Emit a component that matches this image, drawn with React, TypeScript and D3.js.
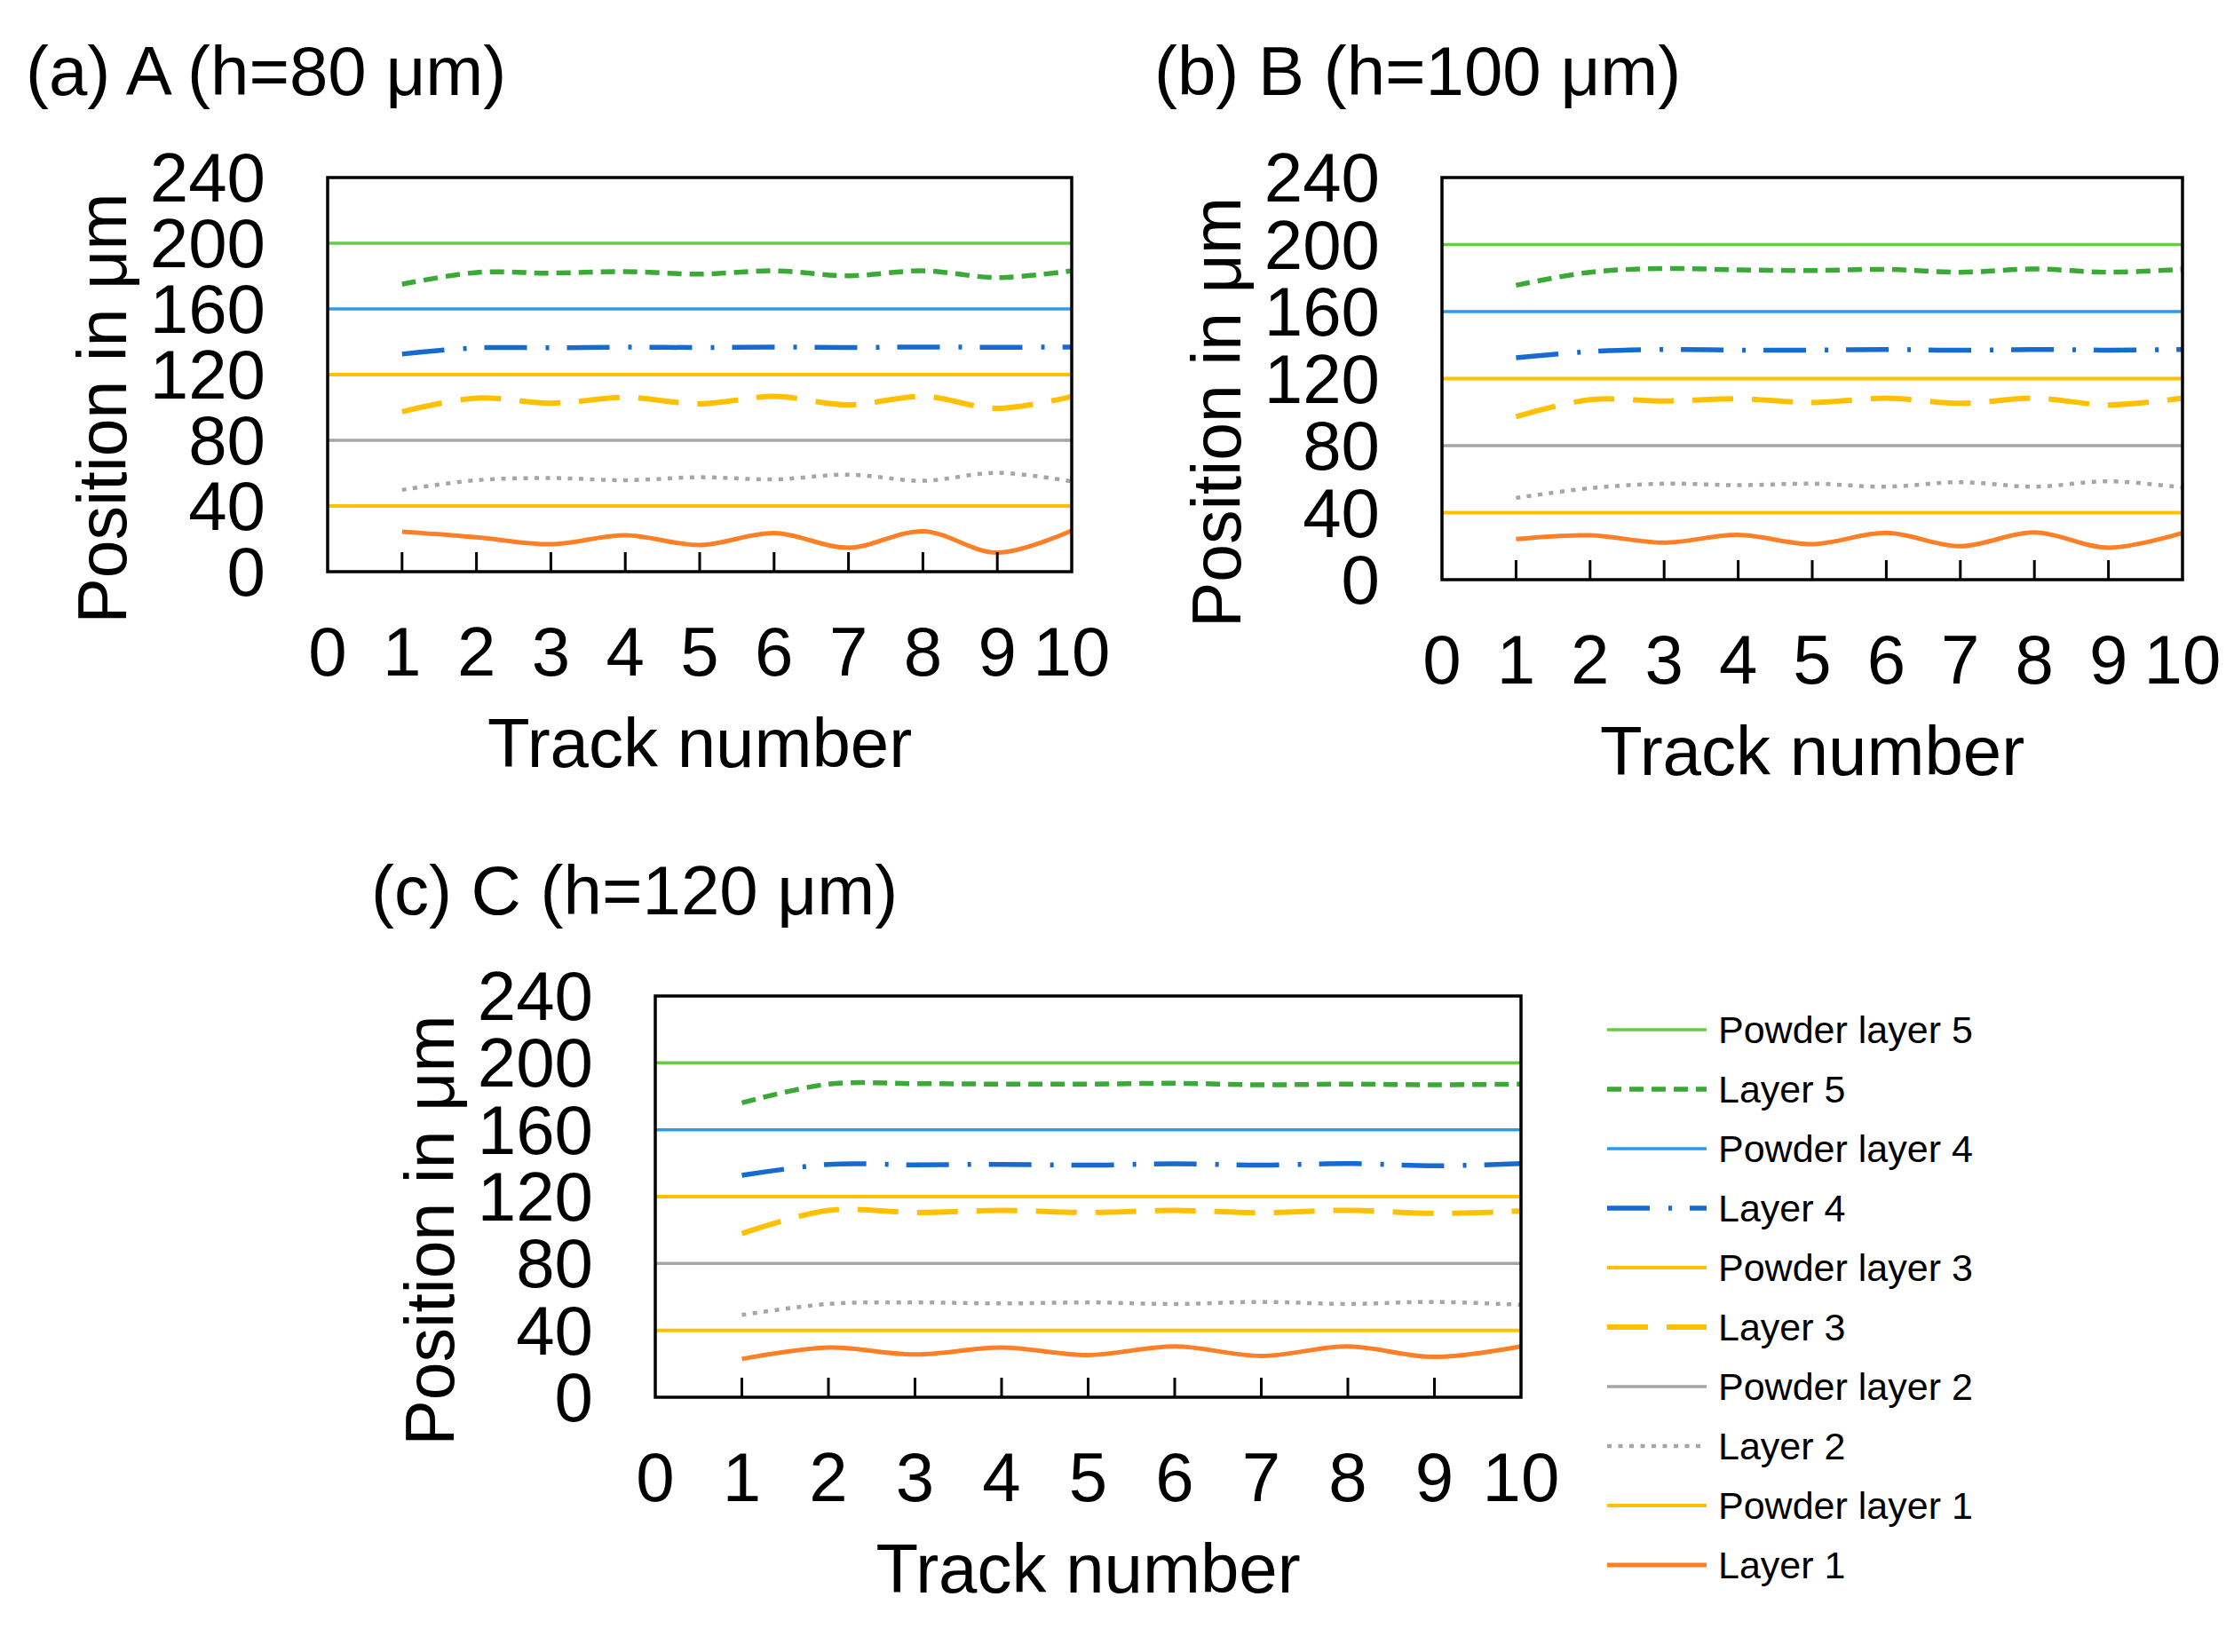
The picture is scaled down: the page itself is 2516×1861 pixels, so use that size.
import { useEffect, useRef } from "react"
import * as d3 from "d3"

const W = 2516
const H = 1861
const FONT = "'Liberation Sans', Arial, Helvetica, sans-serif"

// track numbers and axis ticks
const tracks = [1, 2, 3, 4, 5, 6, 7, 8, 9, 10]
const xTickValues = [0, 1, 2, 3, 4, 5, 6, 7, 8, 9, 10]
const innerTicks = [1, 2, 3, 4, 5, 6, 7, 8, 9]
const yTickValues = [0, 40, 80, 120, 160, 200, 240]

// nominal powder layer heights (powder layer 1..5)
const powderHeights = [40, 80, 120, 160, 200]

// (a) A, h = 80 um
const layer1A = [24.3, 21.0, 16.7, 22.2, 16.2, 23.5, 14.6, 24.6, 11.6, 25.0]
const layer2A = [49.8, 55.7, 57.0, 55.7, 57.5, 56.2, 59.1, 55.4, 60.2, 55.0]
const layer3A = [97.4, 105.7, 102.6, 106.1, 102.2, 106.7, 101.6, 106.7, 99.5, 106.7]
const layer4A = [132.5, 136.3, 136.3, 136.7, 136.5, 136.8, 136.5, 136.8, 136.6, 136.8]
const layer5A = [175.0, 182.2, 181.8, 182.7, 181.2, 183.2, 180.2, 183.2, 179.1, 183.2]

// (b) B, h = 100 um
const layer1B = [24.2, 26.5, 22.1, 26.8, 21.2, 27.9, 20.0, 28.2, 19.1, 27.9]
const layer2B = [48.8, 54.6, 57.3, 56.4, 57.3, 55.5, 58.2, 55.5, 58.7, 55.0]
const layer3B = [97.3, 107.4, 106.6, 108.0, 105.7, 108.3, 105.3, 108.3, 104.3, 108.3]
const layer4B = [132.4, 136.1, 137.4, 137.0, 137.0, 137.4, 136.9, 137.4, 137.0, 137.4]
const layer5B = [175.7, 183.5, 185.7, 184.9, 184.5, 185.2, 183.5, 185.4, 183.5, 185.2]

// (c) C, h = 120 um
const layer1C = [22.9, 29.7, 25.6, 29.7, 25.2, 30.4, 24.7, 30.4, 24.1, 30.4]
const layer2C = [49.2, 55.8, 56.7, 56.1, 56.7, 55.8, 57.0, 55.8, 57.0, 55.3]
const layer3C = [97.9, 111.8, 110.5, 111.8, 110.5, 111.8, 110.3, 111.8, 110.0, 111.4]
const layer4C = [132.7, 139.3, 139.0, 139.3, 138.8, 139.7, 138.8, 139.8, 138.4, 139.8]
const layer5C = [176.1, 187.3, 187.6, 187.3, 187.3, 187.8, 186.9, 187.3, 186.9, 187.3]

const panelTitles = ["(a) A (h=80 μm)", "(b) B (h=100 μm)", "(c) C (h=120 μm)"]
const legendLabels = [
  "Powder layer 5",
  "Layer 5",
  "Powder layer 4",
  "Layer 4",
  "Powder layer 3",
  "Layer 3",
  "Powder layer 2",
  "Layer 2",
  "Powder layer 1",
  "Layer 1",
]

// styles: index 0 = layer 1 ... index 4 = layer 5
const layerStyles = [
  { color: "#FF7F27", width: 5, dash: "" },
  { color: "#A6A6A6", width: 4.5, dash: "5,7.5" },
  { color: "#FFC000", width: 6, dash: "46,21" },
  { color: "#176BD0", width: 5.5, dash: "48,21,4,20" },
  { color: "#3AA935", width: 5.5, dash: "16,9" },
]
const powderStyles = [
  { color: "#FFC000", width: 4 },
  { color: "#A6A6A6", width: 3.5 },
  { color: "#FFC000", width: 4 },
  { color: "#2E9BE8", width: 3.5 },
  { color: "#66CC44", width: 3.5 },
]

const panels = [
  { left: 369, right: 1207, top: 200, bottom: 644, titleX: 29, titleY: 107, layers: [layer1A, layer2A, layer3A, layer4A, layer5A] },
  { left: 1624, right: 2458, top: 200, bottom: 653, titleX: 1300, titleY: 107, layers: [layer1B, layer2B, layer3B, layer4B, layer5B] },
  { left: 738, right: 1713, top: 1122, bottom: 1574, titleX: 418, titleY: 1030, layers: [layer1C, layer2C, layer3C, layer4C, layer5C] },
]

export default function App() {
  const svgRef = useRef<SVGSVGElement | null>(null)

  useEffect(() => {
    const svg = d3.select(svgRef.current)
    svg.selectAll("*").remove()
    svg.append("rect").attr("width", W).attr("height", H).attr("fill", "#fff")

    panels.forEach((p, pi) => {
      const g = svg.append("g")
      const x = d3.scaleLinear().domain([0, 10]).range([p.left, p.right])
      const y = d3.scaleLinear().domain([0, 240]).range([p.bottom, p.top])

      // title
      g.append("text")
        .attr("x", p.titleX)
        .attr("y", p.titleY)
        .attr("font-family", FONT)
        .attr("font-size", 78)
        .text(panelTitles[pi])

      // powder layer reference lines
      powderHeights.forEach((h, i) => {
        g.append("line")
          .attr("x1", x(0))
          .attr("x2", x(10))
          .attr("y1", y(h))
          .attr("y2", y(h))
          .attr("stroke", powderStyles[i].color)
          .attr("stroke-width", powderStyles[i].width)
      })

      // measured layer lines (smoothed)
      const line = d3
        .line<number>()
        .x((_, i) => x(tracks[i]))
        .y((d) => y(d))
        .curve(d3.curveCatmullRom)

      p.layers.forEach((vals, i) => {
        const st = layerStyles[i]
        g.append("path")
          .datum(vals)
          .attr("fill", "none")
          .attr("stroke", st.color)
          .attr("stroke-width", st.width)
          .attr("stroke-dasharray", st.dash || null)
          .attr("d", line)
      })

      // inner ticks on the bottom axis
      g.selectAll(".tick")
        .data(innerTicks)
        .enter()
        .append("line")
        .attr("x1", (d) => x(d))
        .attr("x2", (d) => x(d))
        .attr("y1", p.bottom)
        .attr("y2", p.bottom - 22)
        .attr("stroke", "#000")
        .attr("stroke-width", 3)

      // frame
      g.append("rect")
        .attr("x", p.left)
        .attr("y", p.top)
        .attr("width", p.right - p.left)
        .attr("height", p.bottom - p.top)
        .attr("fill", "none")
        .attr("stroke", "#000")
        .attr("stroke-width", 3.5)

      // y tick labels
      g.selectAll(".ylab")
        .data(yTickValues)
        .enter()
        .append("text")
        .attr("x", p.left - 70)
        .attr("y", (d) => y(d) + 27)
        .attr("text-anchor", "end")
        .attr("font-family", FONT)
        .attr("font-size", 78)
        .text((d) => d)

      // x tick labels
      g.selectAll(".xlab")
        .data(xTickValues)
        .enter()
        .append("text")
        .attr("x", (d) => x(d))
        .attr("y", p.bottom + 117)
        .attr("text-anchor", "middle")
        .attr("font-family", FONT)
        .attr("font-size", 78)
        .text((d) => d)

      // axis titles
      g.append("text")
        .attr("x", (p.left + p.right) / 2)
        .attr("y", p.bottom + 220)
        .attr("text-anchor", "middle")
        .attr("font-family", FONT)
        .attr("font-size", 78)
        .text("Track number")

      const cy = (p.top + p.bottom) / 2 + 38
      g.append("text")
        .attr("transform", `translate(${p.left - 227},${cy}) rotate(-90)`)
        .attr("text-anchor", "middle")
        .attr("font-family", FONT)
        .attr("font-size", 77)
        .text("Position in μm")
    })

    // legend
    const lg = svg.append("g")
    legendLabels.forEach((label, i) => {
      const ly = 1160 + i * 67
      const layerIdx = 4 - Math.floor(i / 2)
      const isPowder = i % 2 === 0
      const st = isPowder ? powderStyles[layerIdx] : layerStyles[layerIdx]
      lg.append("line")
        .attr("x1", 1810)
        .attr("x2", 1922)
        .attr("y1", ly)
        .attr("y2", ly)
        .attr("stroke", st.color)
        .attr("stroke-width", st.width)
        .attr("stroke-dasharray", !isPowder && (st as any).dash ? (st as any).dash : null)
      lg.append("text")
        .attr("x", 1935)
        .attr("y", ly + 15)
        .attr("font-family", FONT)
        .attr("font-size", 43)
        .text(label)
    })
  }, [])

  return (
    <svg
      ref={svgRef}
      width={W}
      height={H}
      style={{ position: "absolute", left: 0, top: 0, display: "block" }}
    />
  )
}
